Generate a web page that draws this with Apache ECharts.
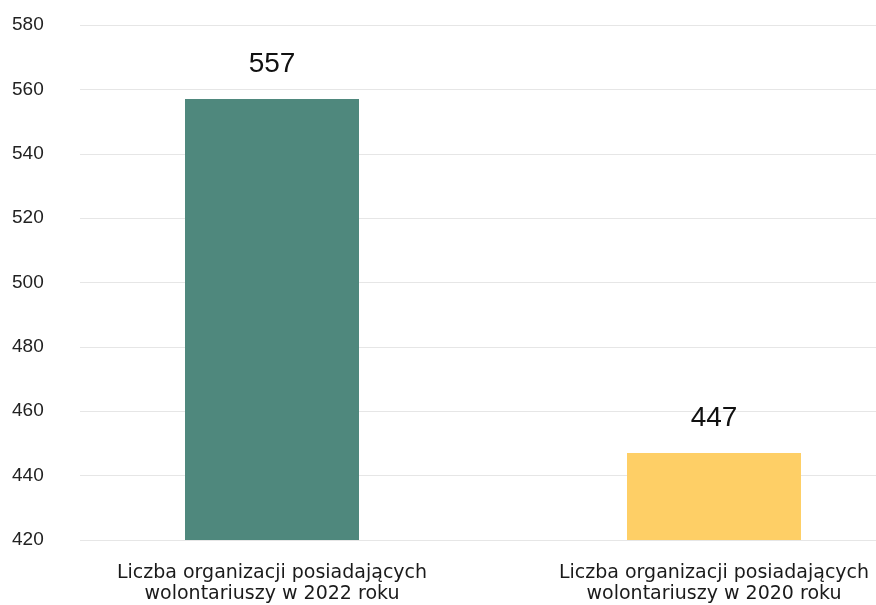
<!DOCTYPE html>
<html>
<head>
<meta charset="utf-8">
<script src="https://cdn.jsdelivr.net/npm/echarts@6/dist/echarts.min.js"></script>
<style>
  html, body { margin: 0; padding: 0; background: #ffffff; }
  #chart { width: 876px; height: 605px; }
</style>
</head>
<body>
<div id="chart"></div>
<script>
// Volunteer-hosting organisations, 2022 vs 2020
const categories = [
  'Liczba organizacji posiadających\nwolontariuszy w 2022 roku',
  'Liczba organizacji posiadających\nwolontariuszy w 2020 roku'
];
const values = [557, 447];
const barColors = ['#4f887d', '#fecf66'];
const yMin = 420;
const yMax = 580;
const yStep = 20;

const chart = echarts.init(document.getElementById('chart'));

chart.setOption({
  animation: false,
  // grid 0 carries the value scale and its gridlines, grid 1 carries the bars
  grid: [
    { left: 80, right: 0, top: 25, bottom: 65, outerBoundsMode: 'none' },
    { left: 51, right: -59, top: 25, bottom: 65, outerBoundsMode: 'none' }
  ],
  xAxis: [
    { gridIndex: 0, type: 'value', show: false },
    {
      gridIndex: 1,
      type: 'category',
      data: categories,
      axisLine: { show: false },
      axisTick: { show: false },
      axisLabel: {
        margin: 23,
        fontFamily: 'DejaVu Sans',
        fontSize: 19,
        lineHeight: 21,
        color: '#1a1a1a'
      }
    }
  ],
  yAxis: [
    {
      gridIndex: 0,
      type: 'value',
      min: yMin,
      max: yMax,
      interval: yStep,
      axisLine: { show: false },
      axisTick: { show: false },
      splitLine: { lineStyle: { color: '#e6e6e6', width: 1 } },
      axisLabel: {
        align: 'left',
        margin: 68,
        fontFamily: 'Liberation Sans',
        fontSize: 19,
        color: '#222222'
      }
    },
    {
      gridIndex: 1,
      type: 'value',
      min: yMin,
      max: yMax,
      interval: yStep,
      show: false,
      splitLine: { show: false }
    }
  ],
  series: [
    {
      type: 'bar',
      xAxisIndex: 1,
      yAxisIndex: 1,
      barWidth: 174,
      data: values.map((v, i) => ({ value: v, itemStyle: { color: barColors[i] } })),
      label: {
        show: true,
        position: 'top',
        distance: 21,
        fontFamily: 'Liberation Sans',
        fontSize: 28,
        color: '#111111'
      }
    }
  ]
});
</script>
</body>
</html>
